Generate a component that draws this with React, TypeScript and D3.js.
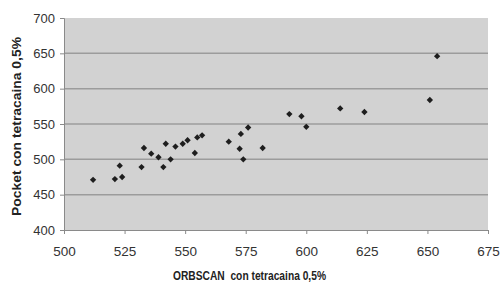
import { useEffect, useRef } from "react";
import * as d3 from "d3";

// ORBSCAN vs Pocket (tetracaina 0,5%)
const orbscan = [
  512, 521, 523, 524, 532, 533, 536, 539, 541, 542, 544, 546, 549, 551, 554,
  555, 557, 568, 572.5, 573, 574, 576, 582, 593, 598, 600, 614, 624, 651, 654,
];
const pocket = [
  471, 472, 491, 475, 489, 516, 508, 503, 489, 522, 500, 518, 522, 527, 509,
  531, 534, 525, 515, 536, 500, 545, 516, 564, 561, 546, 572, 567, 584, 646,
];
const xTicks = [500, 525, 550, 575, 600, 625, 650, 675];
const yTicks = [400, 450, 500, 550, 600, 650, 700];
const xTitle = "ORBSCAN  con tetracaina 0,5%";
const yTitle = "Pocket con tetracaina 0,5%";

export default function App() {
  const svgRef = useRef<SVGSVGElement>(null);

  useEffect(() => {
    if (!svgRef.current) return;
    const svg = d3.select(svgRef.current);
    svg.selectAll("*").remove();

    const width = 501;
    const height = 282;
    const left = 64;
    const right = 488;
    const top = 18;
    const bottom = 230;

    const x = d3.scaleLinear().domain([500, 675]).range([left, right]);
    const y = d3.scaleLinear().domain([400, 700]).range([bottom, top]);

    svg.attr("width", width).attr("height", height);

    // plot area
    svg
      .append("rect")
      .attr("x", left)
      .attr("y", top)
      .attr("width", right - left)
      .attr("height", bottom - top)
      .attr("fill", "#d2d2d2");

    // gridlines
    svg
      .append("g")
      .selectAll("line")
      .data(yTicks.filter((d) => d > 400 && d < 700))
      .join("line")
      .attr("x1", left)
      .attr("x2", right)
      .attr("y1", (d) => y(d))
      .attr("y2", (d) => y(d))
      .attr("stroke", "#9c9c9c")
      .attr("stroke-width", 1.5);

    const font = "Liberation Sans, Arial, sans-serif";

    // y axis
    const yAxis = svg
      .append("g")
      .attr("transform", `translate(${left},0)`)
      .call(d3.axisLeft(y).tickValues(yTicks).tickSize(4).tickPadding(5));
    yAxis.select(".domain").attr("stroke", "#8a8a8a");
    yAxis.selectAll(".tick line").attr("stroke", "#8a8a8a");
    yAxis
      .selectAll(".tick text")
      .attr("font-family", font)
      .attr("font-size", 13)
      .attr("fill", "#333");

    // x axis
    const xAxis = svg
      .append("g")
      .attr("transform", `translate(0,${bottom})`)
      .call(d3.axisBottom(x).tickValues(xTicks).tickSize(4).tickPadding(12));
    xAxis.select(".domain").attr("stroke", "#8a8a8a");
    xAxis.selectAll(".tick line").attr("stroke", "#8a8a8a");
    xAxis
      .selectAll(".tick text")
      .attr("font-family", font)
      .attr("font-size", 13.5)
      .attr("fill", "#333");

    // points
    const diamond = d3.symbol(d3.symbolSquare, 20);
    svg
      .append("g")
      .selectAll("path")
      .data(orbscan.map((v, i) => [v, pocket[i]]))
      .join("path")
      .attr("d", diamond)
      .attr(
        "transform",
        (d) => `translate(${x(d[0])},${y(d[1])}) rotate(45)`
      )
      .attr("fill", "#1e1e1e");

    // titles
    svg
      .append("text")
      .attr("x", 173)
      .attr("y", 280)
      .attr("font-family", font)
      .attr("font-size", 12.5)
      .attr("font-weight", "bold")
      .attr("fill", "#222")
      .attr("textLength", 153)
      .attr("lengthAdjust", "spacingAndGlyphs")
      .style("white-space", "pre")
      .text(xTitle);

    svg
      .append("text")
      .attr("transform", `translate(21,${216}) rotate(-90)`)
      .attr("font-family", font)
      .attr("font-size", 13)
      .attr("font-weight", "bold")
      .attr("fill", "#222")
      .attr("textLength", 179)
      .attr("lengthAdjust", "spacingAndGlyphs")
      .text(yTitle);
  }, []);

  return (
    <div style={{ position: "absolute", left: 0, top: 0, background: "#fff" }}>
      <svg ref={svgRef} style={{ display: "block" }} />
    </div>
  );
}
